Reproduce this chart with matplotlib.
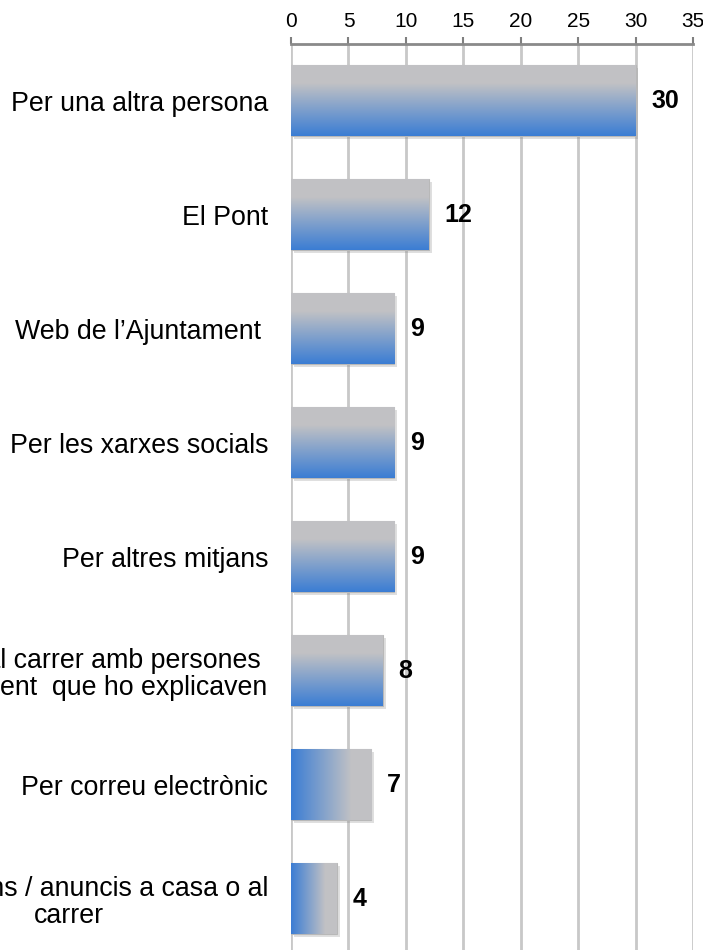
import numpy as np
import matplotlib
matplotlib.use('Agg')
import matplotlib.pyplot as plt
import matplotlib.patheffects as pe
from matplotlib.colors import LinearSegmentedColormap

categories = ['Per una altra persona',
              'El Pont',
              'Web de l\u2019Ajuntament ',
              'Per les xarxes socials',
              'Per altres mitjans',
              'Informació al carrer amb persones \nde l\u2019Ajuntament  que ho explicaven',
              'Per correu electrònic',
              'Per fulletons / anuncis a casa o al\ncarrer']
values = [30, 12, 9, 9, 9, 8, 7, 4]
# gradient direction per bar: 'v' gray->blue top to bottom, 'h' blue->gray left to right
directions = ['v', 'v', 'v', 'v', 'v', 'v', 'h', 'h']

GRAY = (0.76, 0.76, 0.77)
BLUE = (0.23, 0.49, 0.83)
cmap = LinearSegmentedColormap.from_list(
    'grad', [(0.0, GRAY), (0.25, GRAY), (1.0, BLUE)])

plt.rcParams['font.family'] = ['Liberation Sans', 'DejaVu Sans']

fig = plt.figure(figsize=(7.03, 9.50), dpi=100)
ax = fig.add_axes([0.414, -0.006, 0.572, 0.960])

y = np.arange(len(categories))
bars = ax.barh(y, values, height=0.62, color='#c4c4c6', edgecolor='#b8b8b8',
               linewidth=0.8, zorder=3,
               path_effects=[pe.SimplePatchShadow(offset=(2, -2), alpha=0.25,
                                                  shadow_rgbFace='#808080'),
                             pe.Normal()])

grad = np.linspace(0, 1, 256)
for bar, d in zip(bars, directions):
    x0, y0 = bar.get_x(), bar.get_y()
    w, h = bar.get_width(), bar.get_height()
    if d == 'v':
        img = grad.reshape(-1, 1)
    else:
        img = grad[::-1].reshape(1, -1)
    im = ax.imshow(img, cmap=cmap, aspect='auto', extent=(x0, x0 + w, y0 + h, y0),
                   origin='upper', zorder=4, interpolation='bilinear')
    im.set_clip_path(bar)

ax.bar_label(bars, labels=[str(v) for v in values], padding=11,
             fontsize=18, fontweight='bold', zorder=5)

ax.set_xlim(0, 35)
ax.set_ylim(len(categories) - 0.5, -0.5)
ax.set_xticks(np.arange(0, 36, 5))
ax.set_yticks(y)
ax.set_yticklabels(categories, fontsize=19.3)
plt.setp(ax.get_yticklabels(), multialignment='center', linespacing=1.05)

ax.xaxis.tick_top()
ax.tick_params(axis='x', labelsize=15, colors='#7f7f7f', length=5, width=1.5,
               direction='out', pad=4, labelcolor='black')
ax.tick_params(axis='y', length=0, pad=16.5)
ax.grid(axis='x', color='#c8c8c8', linewidth=2, zorder=0)
ax.set_axisbelow(True)
for side in ['left', 'right', 'bottom']:
    ax.spines[side].set_visible(False)
ax.spines['top'].set_color('#8a8a8a')
ax.spines['top'].set_linewidth(2)

fig.savefig('out.png', dpi=100)
plt.close(fig)
